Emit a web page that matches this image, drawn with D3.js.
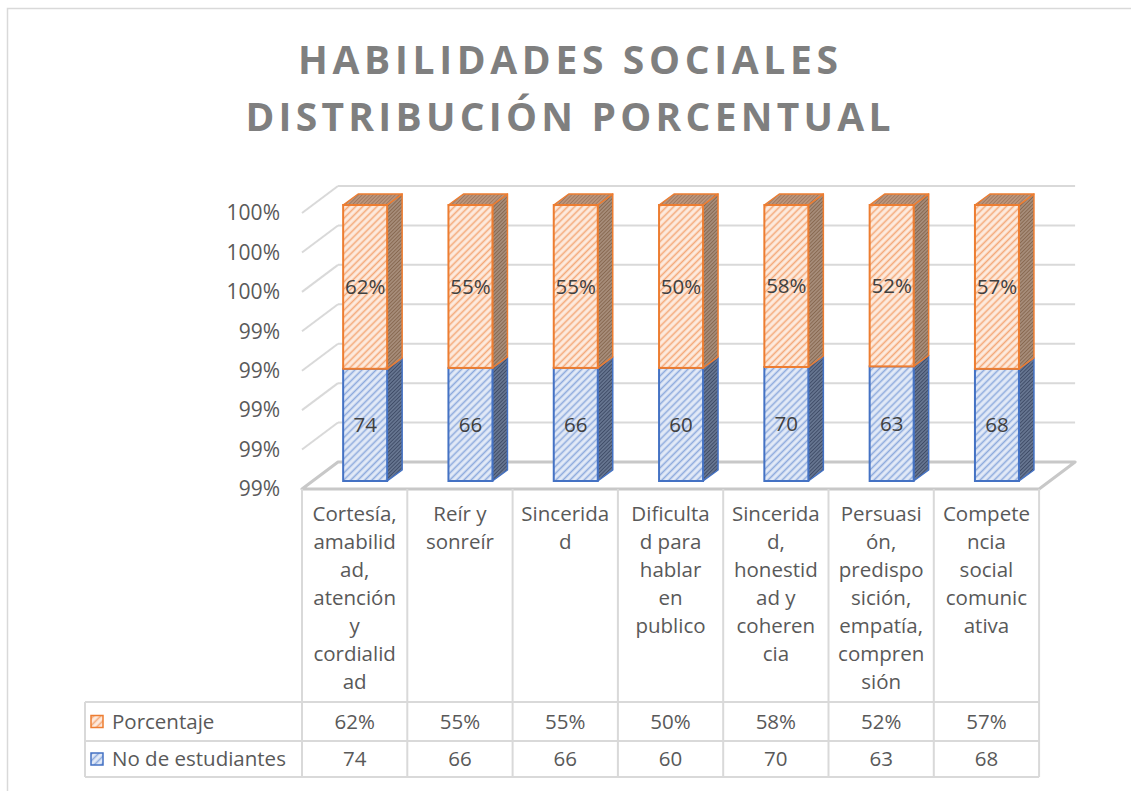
<!DOCTYPE html>
<html>
<head>
<meta charset="utf-8">
<script src="https://cdn.jsdelivr.net/npm/d3@7"></script>
<style>
	html, body { margin: 0; padding: 0; background: #fff; }
	svg { display: block; font-family: "Open Sans", sans-serif; }
</style>
</head>
<body>
<div id="chart"></div>
<script>
// data
const categories = [
	"Cortesía, amabilidad, atención y cordialidad",
	"Reír y sonreír",
	"Sinceridad",
	"Dificultad para hablar en publico",
	"Sinceridad, honestidad y coherencia",
	"Persuasión, predisposición, empatía, comprensión",
	"Competencia social comunicativa",
];
// the way the category cells wrap (Excel breaks mid-word)
const categoryLines = [
	["Cortesía,", "amabilid", "ad,", "atención", "y", "cordialid", "ad"],
	["Reír y", "sonreír"],
	["Sincerida", "d"],
	["Dificulta", "d para", "hablar", "en", "publico"],
	["Sincerida", "d,", "honestid", "ad y", "coheren", "cia"],
	["Persuasi", "ón,", "predispo", "sición,", "empatía,", "compren", "sión"],
	["Compete", "ncia", "social", "comunic", "ativa"],
];
const students = [74, 66, 66, 60, 70, 63, 68];
const percent = [0.62, 0.55, 0.55, 0.5, 0.58, 0.52, 0.57];
const seriesNames = ["Porcentaje", "No de estudiantes"];
const titleLines = ["HABILIDADES SOCIALES", "DISTRIBUCIÓN PORCENTUAL"];
const yDomain = [0.986, 1];

const width = 1131;
const height = 791;
const textColor = "#595959";
const gridColor = "#d9d9d9";
const fontSize = 20.5;

// 3d offsets
const depthX = 36;
const depthY = -27;
const barShiftX = 10.5;
const barShiftY = -8;
const barDX = 15;
const barDY = -11;
const barW = 44;

const svg = d3.select("#chart")
	.append("svg")
	.attr("width", width)
	.attr("height", height);

// ---- patterns
const defs = svg.append("defs");

function stripes(id, bg, fg, gap, sw) {
	const p = defs.append("pattern")
		.attr("id", id)
		.attr("patternUnits", "userSpaceOnUse")
		.attr("width", gap)
		.attr("height", gap)
		.attr("patternTransform", "rotate(45)");
	p.append("rect").attr("width", gap).attr("height", gap).attr("fill", bg);
	p.append("line")
		.attr("x1", gap / 2).attr("y1", 0)
		.attr("x2", gap / 2).attr("y2", gap)
		.attr("stroke", fg)
		.attr("stroke-width", sw);
}

stripes("blueFront", "#e3eaf7", "#8eaadd", 5, 1.6);
stripes("orangeFront", "#fdebdf", "#f4a878", 5, 1.6);
stripes("blueSide", "#6c7b96", "#3e4b66", 2.6, 1.1);
stripes("orangeSide", "#ab9280", "#86674f", 2.6, 1.1);
stripes("orangeTop", "#c09a80", "#9e7860", 2.6, 1.1);

// ---- chart border
svg.append("rect")
	.attr("x", 7.5)
	.attr("y", 8.5)
	.attr("width", 1300)
	.attr("height", 1000)
	.attr("fill", "none")
	.attr("stroke", gridColor)
	.attr("stroke-width", 1.5);

// ---- title
svg.append("g")
	.selectAll("text")
	.data(titleLines)
	.join("text")
	.attr("x", 568)
	.attr("y", (d, i) => 74 + i * 57)
	.attr("text-anchor", "middle")
	.attr("textLength", (d, i) => [540, 645][i])
	.attr("lengthAdjust", "spacing")
	.attr("fill", "#7f7f7f")
	.attr("font-size", 39)
	.attr("font-weight", 700)
	.text((d) => d);

// ---- scales
const tableLeft = 302;
const colW = 105.3;
const xScale = d3.scaleBand()
	.domain(categories)
	.range([tableLeft, tableLeft + colW * categories.length]);

const yScale = d3.scaleLinear().domain(yDomain).range([489, 213]);
const yTicks = yScale.ticks(7);

// ---- walls / gridlines
const grid = svg.append("g").attr("class", "grid-lines");
const x0 = xScale.range()[0];
const x1 = xScale.range()[1];

grid.selectAll(".grid-line.diag")
	.data(yTicks.slice(1))
	.join("line")
	.attr("class", "grid-line diag")
	.attr("stroke", gridColor)
	.attr("stroke-width", 2)
	.attr("x1", x0)
	.attr("y1", (d) => yScale(d))
	.attr("x2", x0 + depthX)
	.attr("y2", (d) => yScale(d) + depthY);

grid.selectAll(".grid-line.back")
	.data(yTicks.slice(1))
	.join("line")
	.attr("class", "grid-line back")
	.attr("stroke", gridColor)
	.attr("stroke-width", 2)
	.attr("x1", x0 + depthX)
	.attr("y1", (d) => yScale(d) + depthY)
	.attr("x2", x1 + depthX)
	.attr("y2", (d) => yScale(d) + depthY);

// floor
const fy = yScale(yDomain[0]);
grid.append("path")
	.attr("d", `M${x0},${fy} L${x1},${fy} L${x1 + depthX},${fy + depthY} L${x0 + depthX},${fy + depthY} Z`)
	.attr("fill", "#fff")
	.attr("stroke", "#c8c8c8")
	.attr("stroke-width", 3)
	.attr("stroke-linejoin", "round");

// y axis labels
svg.append("g")
	.selectAll("text")
	.data(yTicks)
	.join("text")
	.attr("x", 280)
	.attr("y", (d) => yScale(d))
	.attr("dy", "0.35em")
	.attr("text-anchor", "end")
	.attr("fill", textColor)
	.attr("font-size", 21)
	.text(d3.format(".0%"));

// ---- bars
const stackData = categories.map((c, i) => {
	const total = students[i] + percent[i];
	const b = students[i] / total;
	return { cat: c, i, blue: [yDomain[0], b], orange: [b, 1] };
});

const by = (v) => yScale(v) + barShiftY;

function drawSegment(g, d, seg, front, side, stroke, withTop) {
	const left = xScale(d.cat) + xScale.bandwidth() / 2 + barShiftX - barW / 2;
	const right = left + barW;
	const yb = by(d[seg][0]);
	const yt = by(d[seg][1]);
	g.append("path")
		.attr("d", `M${right},${yb} L${right + barDX},${yb + barDY} L${right + barDX},${yt + barDY} L${right},${yt} Z`)
		.attr("fill", `url(#${side})`)
		.attr("stroke", stroke)
		.attr("stroke-width", 1.5)
		.attr("stroke-linejoin", "round");
	if (withTop) {
		g.append("path")
			.attr("d", `M${left},${yt} L${right},${yt} L${right + barDX},${yt + barDY} L${left + barDX},${yt + barDY} Z`)
			.attr("fill", "url(#orangeTop)")
			.attr("stroke", stroke)
			.attr("stroke-width", 1.5)
			.attr("stroke-linejoin", "round");
	}
	g.append("rect")
		.attr("x", left)
		.attr("y", yt)
		.attr("width", barW)
		.attr("height", yb - yt)
		.attr("fill", `url(#${front})`)
		.attr("stroke", stroke)
		.attr("stroke-width", 2);
}

const bars = svg.append("g").attr("class", "bars");
stackData.forEach((d) => {
	const g = bars.append("g");
	drawSegment(g, d, "blue", "blueFront", "blueSide", "#4472c4", false);
	drawSegment(g, d, "orange", "orangeFront", "orangeSide", "#ed7d31", true);
});

// data labels
const labels = svg.append("g")
	.attr("font-size", fontSize)
	.attr("fill", "#404040")
	.attr("text-anchor", "middle");

labels.selectAll("text.blue")
	.data(stackData)
	.join("text")
	.attr("class", "blue")
	.attr("x", (d) => xScale(d.cat) + xScale.bandwidth() / 2 + barShiftX)
	.attr("y", (d) => (by(d.blue[0]) + by(d.blue[1])) / 2)
	.attr("dy", "0.35em")
	.text((d) => students[d.i]);

labels.selectAll("text.orange")
	.data(stackData)
	.join("text")
	.attr("class", "orange")
	.attr("x", (d) => xScale(d.cat) + xScale.bandwidth() / 2 + barShiftX)
	.attr("y", (d) => (by(d.orange[0]) + by(d.orange[1])) / 2)
	.attr("dy", "0.35em")
	.text((d) => d3.format(".0%")(percent[d.i]));

// ---- data table
const rowTop = 702;
const rowMid = 741;
const rowBot = 777;
const tableX = 85;
const table = svg.append("g").attr("class", "data-table");

[rowTop, rowMid, rowBot].forEach((y) => {
	table.append("line")
		.attr("x1", tableX).attr("x2", x1)
		.attr("y1", y).attr("y2", y)
		.attr("stroke", gridColor).attr("stroke-width", 2);
});
table.append("line")
	.attr("x1", tableX).attr("x2", tableX)
	.attr("y1", rowTop).attr("y2", rowBot)
	.attr("stroke", gridColor).attr("stroke-width", 2);

table.selectAll("line.col")
	.data(d3.range(categories.length + 1))
	.join("line")
	.attr("class", "col")
	.attr("x1", (d) => x0 + d * xScale.bandwidth())
	.attr("x2", (d) => x0 + d * xScale.bandwidth())
	.attr("y1", fy)
	.attr("y2", rowBot)
	.attr("stroke", gridColor)
	.attr("stroke-width", 2);

// category labels
table.selectAll("text.cat")
	.data(categories)
	.join("text")
	.attr("class", "cat")
	.attr("text-anchor", "middle")
	.attr("fill", textColor)
	.attr("font-size", fontSize)
	.each(function (c, i) {
		d3.select(this)
			.selectAll("tspan")
			.data(categoryLines[i])
			.join("tspan")
			.attr("x", xScale(c) + xScale.bandwidth() / 2)
			.attr("y", (d, j) => 521 + j * 28)
			.text((d) => d);
	});

// row headers with legend keys
const rows = [
	{ name: seriesNames[0], y: (rowTop + rowMid) / 2, key: "orangeFront", stroke: "#ed7d31", values: percent.map(d3.format(".0%")) },
	{ name: seriesNames[1], y: (rowMid + rowBot) / 2, key: "blueFront", stroke: "#4472c4", values: students.map(String) },
];

rows.forEach((r) => {
	table.append("rect")
		.attr("x", 91)
		.attr("y", r.y - 6)
		.attr("width", 12)
		.attr("height", 12)
		.attr("fill", `url(#${r.key})`)
		.attr("stroke", r.stroke)
		.attr("stroke-width", 1.5);
	table.append("text")
		.attr("x", 112)
		.attr("y", r.y)
		.attr("dy", "0.35em")
		.attr("fill", textColor)
		.attr("font-size", fontSize)
		.text(r.name);
	table.selectAll(null)
		.data(r.values)
		.join("text")
		.attr("x", (d, i) => xScale(categories[i]) + xScale.bandwidth() / 2)
		.attr("y", r.y)
		.attr("dy", "0.35em")
		.attr("text-anchor", "middle")
		.attr("fill", textColor)
		.attr("font-size", fontSize)
		.text((d) => d);
});
</script>
</body>
</html>
